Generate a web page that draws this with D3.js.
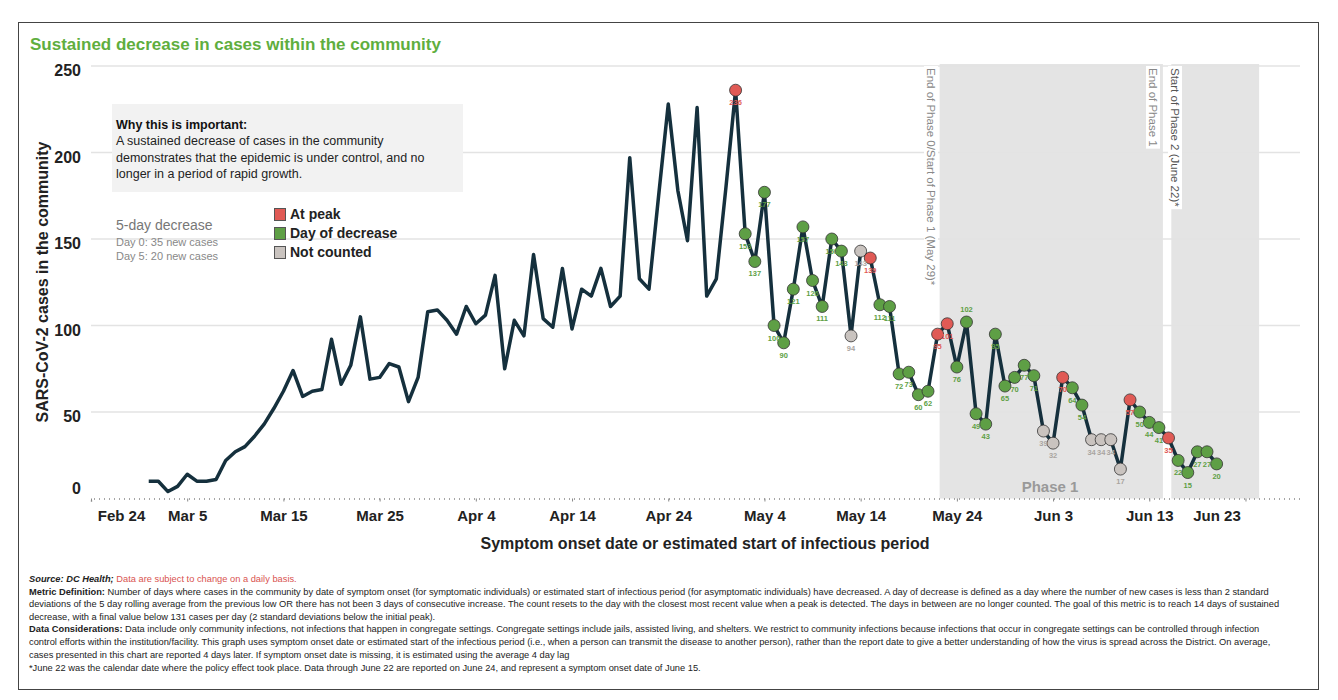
<!DOCTYPE html>
<html><head><meta charset="utf-8">
<script src="https://cdn.jsdelivr.net/npm/d3@7"></script>
<style>
body{margin:0;background:#fff;font-family:Arial,"Liberation Sans",sans-serif;}
.foot{font-family:"Liberation Sans Narrow","Arial Narrow","Liberation Sans",sans-serif;font-size:9.3px;fill:#222;}
</style></head><body>
<div id="chart"></div>
<script>
// daily community cases, first value is Mar 1 2020
const startDate = new Date(2020, 2, 1);
const cases = [10,10,4,7,14,10,10,11,22,27,30,36,43,52,62,74,59,62,63,92,66,77,105,69,70,78,76,56,70,108,109,103,95,111,101,106,129,75,103,94,141,104,99,133,98,121,117,133,111,117,197,127,121,175,228,178,149,226,117,127,180,
  236,153,137,177,100,90,121,157,126,111,150,143,94,143,139,112,111,72,73,60,62,95,101,76,102,49,43,95,65,70,77,71,39,32,70,64,54,34,34,34,17,57,50,44,41,35,22,15,27,27,20];
// status from May 1 on: P at peak, D day of decrease, N not counted
const statusStart = 61;
const status = "PDDDDDDDDDDDNNPDDDDDDPPDDDDDDDDDNNPDDNNNNPDDDPDDDDD".split("");
const statusColor = {P: "#e05a55", D: "#5e9f45", N: "#c9c3bf"};
const labelColor = {P: "#e05a55", D: "#5e9f45", N: "#a9a4a0"};
const xTicks = ["2020-02-24","2020-03-05","2020-03-15","2020-03-25","2020-04-04","2020-04-14","2020-04-24","2020-05-04","2020-05-14","2020-05-24","2020-06-03","2020-06-13","2020-06-23"];
const shades = [["2020-05-22T05:00","2020-06-14T10:00"], ["2020-06-15T07:00","2020-06-24T10:00"]];
const yTicks = [0, 50, 100, 150, 200, 250];
const footer = [
  [["Source: DC Health; ", "#222", "bold italic"], ["Data are subject to change on a daily basis.", "#d9534f", ""]],
  [["Metric Definition: ", "#222", "bold"], ["Number of days where cases in the community by date of symptom onset (for symptomatic individuals) or estimated start of infectious period (for asymptomatic individuals) have decreased. A day of decrease is defined as a day where the number of new cases is less than 2 standard", "#222", ""]],
  [["deviations of the 5 day rolling average from the previous low OR there has not been 3 days of consecutive increase. The count resets to the day with the closest most recent value when a peak is detected. The days in between are no longer counted. The goal of this metric is to reach 14 days of sustained", "#222", ""]],
  [["decrease, with a final value below 131 cases per day (2 standard deviations below the initial peak).", "#222", ""]],
  [["Data Considerations: ", "#222", "bold"], ["Data include only community infections, not infections that happen in congregate settings. Congregate settings include jails, assisted living, and shelters. We restrict to community infections because infections that occur in congregate settings can be controlled through infection", "#222", ""]],
  [["control efforts within the institution/facility. This graph uses symptom onset date or estimated start of the infectious period (i.e., when a person can transmit the disease to another person), rather than the report date to give a better understanding of how the virus is spread across the District. On average,", "#222", ""]],
  [["cases presented in this chart are reported 4 days later. If symptom onset date is missing, it is estimated using the average 4 day lag", "#222", ""]],
  [["*June 22 was the calendar date where the policy effect took place. Data through June 22 are reported on June 24, and represent a symptom onset date of June 15.", "#222", ""]]
];

const width = 1338, height = 700;
const svg = d3.select("#chart").append("svg").attr("width", width).attr("height", height);

svg.append("rect").attr("x", 18.5).attr("y", 22.5).attr("width", 1300).attr("height", 667)
  .attr("fill", "none").attr("stroke", "#444");

svg.append("text").attr("x", 30).attr("y", 50).text("Sustained decrease in cases within the community")
  .attr("fill", "#5fae3e").attr("font-weight", "bold").attr("font-size", 17);

const data = cases.map((v, i) => ({date: d3.timeDay.offset(startDate, i), v, s: i >= statusStart ? status[i - statusStart] : null}));

const x = d3.scaleTime().domain([new Date(2020, 1, 24), new Date(2020, 5, 28, 16)]).range([91, 1300]);
const y = d3.scaleLinear().domain([0, 250]).range([498.5, 66]);

// shaded phases
svg.selectAll(".shade").data(shades).enter().append("rect")
  .attr("x", d => x(new Date(d[0]))).attr("width", d => x(new Date(d[1])) - x(new Date(d[0])))
  .attr("y", y(250) - 2).attr("height", y(0) - y(250) + 2).attr("fill", "#e4e4e4");

// grid
svg.selectAll(".grid").data(yTicks.filter(d => d > 0)).enter().append("line")
  .attr("x1", 91).attr("x2", 1300).attr("y1", d => y(d)).attr("y2", d => y(d))
  .attr("stroke", "#e3e3e3").attr("stroke-width", 1.5);

svg.append("text").attr("x", 1050).attr("y", 492).attr("text-anchor", "middle")
  .attr("fill", "#999").attr("font-weight", "bold").attr("font-size", 15).text("Phase 1");

// x axis
const xAxis = svg.append("g").attr("transform", `translate(0,${y(0)})`)
  .call(d3.axisBottom(x).tickValues(xTicks.map(d => new Date(d + "T00:00"))).tickSize(3).tickFormat(d3.timeFormat("%b %-d")));
xAxis.select(".domain").attr("stroke", "#888").attr("stroke-dasharray", "1,4").attr("stroke-width", 1.5);
xAxis.selectAll(".tick line").attr("stroke", "#888");
xAxis.selectAll(".tick text").attr("font-size", 15).attr("font-weight", "bold").attr("fill", "#222").attr("dy", "1.1em")
  .attr("dx", (d, i) => i === 0 ? 30 : (i === xTicks.length - 1 ? -29 : 0));

// y axis
const yAxis = svg.append("g").attr("transform", "translate(84,0)")
  .call(d3.axisLeft(y).tickValues(yTicks).tickSize(0));
yAxis.select(".domain").remove();
yAxis.selectAll(".tick text").attr("font-size", 16).attr("font-weight", "bold").attr("fill", "#222")
  .attr("dy", (d) => d === 0 ? "-0.3em" : "0.6em");

svg.append("text").attr("transform", "translate(48,282) rotate(-90)").attr("text-anchor", "middle")
  .attr("font-weight", "bold").attr("font-size", 16).attr("fill", "#222").text("SARS-CoV-2 cases in the community");
svg.append("text").attr("x", 705).attr("y", 549).attr("text-anchor", "middle")
  .attr("font-weight", "bold").attr("font-size", 16).attr("fill", "#222").text("Symptom onset date or estimated start of infectious period");

// phase annotations
const notes = [
  {x: 931, y: 66, t: "End of Phase 0/Start of Phase 1 (May 29)*", c: "#888"},
  {x: 1153, y: 66, t: "End of Phase 1", c: "#888"},
  {x: 1175, y: 66, t: "Start of Phase 2 (June 22)*", c: "#555"}
];
notes.forEach(n => {
  const g = svg.append("g").attr("transform", `translate(${n.x},${n.y}) rotate(90)`);
  const t = g.append("text").attr("x", 2).attr("y", 4).attr("font-size", 11.5)
    .attr("fill", n.c).text(n.t);
  const b = t.node().getBBox();
  g.insert("rect", "text").attr("x", b.x - 2).attr("y", b.y - 1).attr("width", b.width + 4).attr("height", b.height + 2).attr("fill", "#fff");
});

// line
svg.append("path").datum(data).attr("fill", "none").attr("stroke", "#15303d").attr("stroke-width", 3.5)
  .attr("stroke-linejoin", "round")
  .attr("d", d3.line().x(d => x(d.date)).y(d => y(d.v)));

const pts = data.filter(d => d.s);
svg.selectAll(".pt").data(pts).enter().append("circle")
  .attr("cx", d => x(d.date)).attr("cy", d => y(d.v)).attr("r", 6)
  .attr("fill", d => statusColor[d.s]).attr("stroke", "#333").attr("stroke-width", 0.8);
svg.selectAll(".lbl").data(pts).enter().append("text")
  .attr("x", d => x(d.date)).attr("y", d => d.v === 102 ? y(d.v) - 10 : y(d.v) + 15)
  .attr("text-anchor", "middle").attr("font-size", 7.5).attr("font-weight", "bold")
  .attr("fill", d => labelColor[d.s]).text(d => d.v);

// info box
svg.append("rect").attr("x", 112).attr("y", 104).attr("width", 351).attr("height", 88).attr("fill", "#f2f2f2");
const info = ["A sustained decrease of cases in the community", "demonstrates that the epidemic is under control, and no", "longer in a period of rapid growth."];
svg.append("text").attr("x", 116).attr("y", 129).attr("font-size", 12.5).attr("font-weight", "bold").attr("fill", "#111").text("Why this is important:");
info.forEach((t, i) => svg.append("text").attr("x", 116).attr("y", 145 + i * 16.5).attr("font-size", 12.5).attr("fill", "#222").text(t));

svg.append("text").attr("x", 116).attr("y", 230).attr("font-size", 14).attr("fill", "#777").text("5-day decrease");
svg.append("text").attr("x", 116).attr("y", 246).attr("font-size", 11).attr("fill", "#888").text("Day 0: 35 new cases");
svg.append("text").attr("x", 116).attr("y", 260).attr("font-size", 11).attr("fill", "#888").text("Day 5: 20 new cases");

const legend = [["P", "At peak"], ["D", "Day of decrease"], ["N", "Not counted"]];
legend.forEach((l, i) => {
  svg.append("rect").attr("x", 274.5).attr("y", 208.5 + i * 19).attr("width", 11).attr("height", 12)
    .attr("fill", statusColor[l[0]]).attr("stroke", "#555");
  svg.append("text").attr("x", 290).attr("y", 219 + i * 19).attr("font-size", 14).attr("font-weight", "bold").attr("fill", "#222").text(l[1]);
});

// footer
footer.forEach((line, i) => {
  const t = svg.append("text").attr("class", "foot").attr("x", 29).attr("y", 582 + i * 12.6 + (i === 7 ? 1 : 0));
  line.forEach(p => t.append("tspan").attr("fill", p[1])
    .attr("font-weight", p[2].includes("bold") ? "bold" : "normal")
    .attr("font-style", p[2].includes("italic") ? "italic" : "normal").text(p[0]));
});
</script></body></html>
